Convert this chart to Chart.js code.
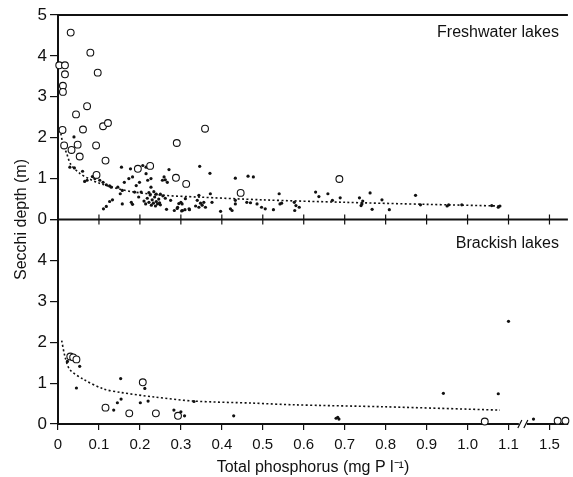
<!DOCTYPE html>
<html>
<head>
<meta charset="utf-8">
<title>Secchi depth vs total phosphorus</title>
<script src="https://cdn.jsdelivr.net/npm/chart.js@4.4.1/dist/chart.umd.min.js"></script>
<style>
  html, body { margin: 0; padding: 0; background: #fff; }
  #chart { display: block; }
</style>
</head>
<body>
<canvas id="chart" width="573" height="477"></canvas>
<script>
// x axis ticks (real phosphorus values) and their labels
const xTickValues = [0, 0.1, 0.2, 0.3, 0.4, 0.5, 0.6, 0.7, 0.8, 0.9, 1.0, 1.1, 1.5];
const xTickLabels = ["0", "0.1", "0.2", "0.3", "0.4", "0.5", "0.6", "0.7", "0.8", "0.9", "1.0", "1.1", "1.5"];
const yTickValues = [0, 1, 2, 3, 4, 5];

// axis break: everything above 1.1 is squeezed
const BREAK_FROM = 1.1;
const BREAK_SQUEEZE = 4;
const BREAK_MARK = 1.135;
const X_MAX = 1.245;

// Freshwater lakes - open circles
const freshOpenX = [0.003, 0.017, 0.017, 0.012, 0.012, 0.031, 0.079, 0.097, 0.071, 0.044, 0.110, 0.122, 0.011, 0.061, 0.015,
  0.033, 0.048, 0.053, 0.093, 0.116, 0.094, 0.195, 0.225, 0.290, 0.288, 0.313, 0.359, 0.446, 0.687];
const freshOpenY = [3.77, 3.77, 3.55, 3.27, 3.12, 4.57, 4.08, 3.59, 2.77, 2.57, 2.28, 2.36, 2.19, 2.20, 1.81,
  1.70, 1.83, 1.54, 1.81, 1.44, 1.09, 1.24, 1.31, 1.87, 1.02, 0.87, 2.22, 0.65, 0.99];

// Freshwater lakes - filled dots
const freshDotX = [0.039, 0.029, 0.040, 0.060, 0.065, 0.071, 0.084, 0.090, 0.096, 0.102, 0.110, 0.118, 0.126, 0.130,
  0.111, 0.118, 0.126, 0.133, 0.146, 0.152, 0.157, 0.162, 0.173, 0.155, 0.157, 0.179, 0.182, 0.177, 0.182, 0.191,
  0.187, 0.199, 0.197, 0.203, 0.207, 0.215, 0.215, 0.219, 0.227, 0.227,
  0.210, 0.214, 0.218, 0.222, 0.225, 0.228, 0.230, 0.233, 0.236, 0.238, 0.240, 0.243, 0.246, 0.248, 0.250, 0.222, 0.234, 0.240,
  0.255, 0.259, 0.262, 0.267, 0.271, 0.275, 0.284, 0.292, 0.300, 0.304, 0.320, 0.311,
  0.265, 0.291, 0.302, 0.310, 0.321, 0.336, 0.344, 0.352, 0.360, 0.295, 0.303, 0.250, 0.256, 0.262,
  0.340, 0.348, 0.356, 0.344, 0.346, 0.371, 0.372, 0.376, 0.397, 0.421, 0.425, 0.433, 0.433, 0.433,
  0.461, 0.470, 0.486, 0.464, 0.477, 0.497, 0.506, 0.526, 0.540, 0.542, 0.546, 0.577, 0.578, 0.581, 0.589,
  0.629, 0.637, 0.659, 0.670, 0.689, 0.736, 0.740, 0.742, 0.744, 0.762, 0.767, 0.791, 0.809, 0.873, 0.885,
  0.950, 0.954, 0.986, 1.059, 1.075, 1.079];
const freshDotY = [2.02, 1.28, 1.26, 1.18, 0.93, 0.96, 1.05, 1.00, 1.04, 0.96, 0.91, 0.85, 0.82, 0.79,
  0.26, 0.32, 0.44, 0.48, 0.79, 0.63, 0.71, 0.91, 1.00, 1.28, 0.38, 0.42, 0.37, 1.24, 1.04, 0.83,
  0.67, 0.91, 0.55, 0.67, 1.32, 1.28, 1.12, 0.96, 1.00, 0.79,
  0.45, 0.38, 0.52, 0.42, 0.60, 0.35, 0.48, 0.40, 0.55, 0.33, 0.44, 0.38, 0.50, 0.41, 0.36, 0.66, 0.68, 0.62,
  0.96, 1.04, 0.97, 0.91, 1.22, 0.47, 0.22, 0.30, 0.42, 0.22, 0.26, 0.51,
  0.25, 0.27, 0.21, 0.24, 0.24, 0.33, 0.30, 0.35, 0.30, 0.39, 0.38, 0.62, 0.58, 0.52,
  0.47, 0.40, 0.42, 0.59, 1.30, 1.13, 0.63, 0.42, 0.20, 0.26, 0.22, 0.47, 0.38, 1.01,
  0.42, 0.41, 0.38, 1.06, 1.04, 0.30, 0.26, 0.24, 0.63, 0.38, 0.40, 0.42, 0.22, 0.34, 0.30,
  0.67, 0.56, 0.63, 0.47, 0.53, 0.53, 0.34, 0.38, 0.45, 0.65, 0.25, 0.48, 0.24, 0.59, 0.36,
  0.33, 0.36, 0.36, 0.34, 0.30, 0.33];

// Freshwater lakes - fitted curve
const freshFitX = [0.007, 0.012, 0.021, 0.031, 0.053, 0.075, 0.100, 0.140, 0.180, 0.260, 0.340, 0.500, 0.700, 0.900, 1.080];
const freshFitY = [2.10, 1.85, 1.62, 1.35, 1.13, 1.00, 0.89, 0.77, 0.68, 0.59, 0.55, 0.48, 0.42, 0.37, 0.33];

// Brackish lakes
const brackOpenX = [0.030, 0.037, 0.045, 0.207, 0.116, 0.174, 0.239, 0.293, 1.042, 1.580, 1.656];
const brackOpenY = [1.65, 1.63, 1.58, 1.02, 0.40, 0.26, 0.26, 0.20, 0.06, 0.08, 0.08];
const brackDotX = [0.023, 0.053, 0.045, 0.153, 0.212, 0.154, 0.145, 0.136, 0.201, 0.220, 0.283, 0.300, 0.309, 0.289,
  0.332, 0.429, 0.679, 0.683, 0.686, 0.941, 1.075, 1.100, 1.344];
const brackDotY = [1.53, 1.41, 0.88, 1.11, 0.87, 0.61, 0.52, 0.34, 0.52, 0.56, 0.34, 0.30, 0.20, 0.16,
  0.55, 0.20, 0.14, 0.16, 0.12, 0.75, 0.74, 2.51, 0.12];
const brackFitX = [0.009, 0.017, 0.029, 0.061, 0.110, 0.154, 0.235, 0.332, 0.477, 0.574, 0.800, 1.079];
const brackFitY = [2.04, 1.65, 1.33, 1.10, 0.86, 0.77, 0.66, 0.56, 0.51, 0.47, 0.42, 0.34];

const FONT = "'Liberation Sans', Arial, Helvetica, sans-serif";
const INK = "#111";

// map a real x value onto the broken axis
const brk = (x) => (x <= BREAK_FROM ? x : BREAK_FROM + (x - BREAK_FROM) / BREAK_SQUEEZE);
const pts = (xs, ys) => xs.map((x, i) => ({ x: brk(x), y: ys[i] }));

const openStyle = {
  pointStyle: "circle", pointRadius: 3.4, pointBorderWidth: 1.1,
  pointBackgroundColor: "#fff", pointBorderColor: INK, showLine: false, clip: false
};
const dotStyle = {
  pointStyle: "circle", pointRadius: 1.6, pointBorderWidth: 0,
  pointBackgroundColor: INK, showLine: false, clip: false
};
const fitStyle = {
  showLine: true, pointRadius: 0, borderColor: INK, borderWidth: 1.6,
  borderDash: [2, 2.4], tension: 0.3, clip: false
};

// frame, inner ticks, axis break and panel labels
const framePlugin = {
  id: "frame",
  afterDraw(chart) {
    const ctx = chart.ctx;
    const area = chart.chartArea;
    const x = chart.scales.x;
    const mid = chart.scales.yBot.top;
    ctx.save();
    ctx.strokeStyle = INK;
    ctx.lineWidth = 2;
    ctx.beginPath();
    ctx.moveTo(area.left, area.top);
    ctx.lineTo(area.right, area.top);
    ctx.moveTo(area.left, mid);
    ctx.lineTo(area.right, mid);
    ctx.stroke();

    // ticks on the shared middle line point into both panels
    ctx.lineWidth = 1.2;
    ctx.beginPath();
    xTickValues.forEach((v) => {
      const px = x.getPixelForValue(brk(v));
      ctx.moveTo(px, mid - 5);
      ctx.lineTo(px, mid + 5);
    });
    ctx.stroke();

    // axis break "//"
    const bx = x.getPixelForValue(BREAK_MARK);
    const by = area.bottom;
    ctx.fillStyle = "#fff";
    ctx.fillRect(bx - 4, by - 2, 8, 4);
    ctx.beginPath();
    ctx.moveTo(bx - 5, by + 4);
    ctx.lineTo(bx - 1, by - 4);
    ctx.moveTo(bx + 1, by + 4);
    ctx.lineTo(bx + 5, by - 4);
    ctx.stroke();

    // panel labels
    ctx.fillStyle = INK;
    ctx.font = "16px " + FONT;
    ctx.textAlign = "right";
    ctx.textBaseline = "alphabetic";
    ctx.fillText("Freshwater lakes", area.right - 9, area.top + 22);
    ctx.fillText("Brackish lakes", area.right - 9, mid + 28);

    // y axis title, centred over both panels
    ctx.translate(22, (area.top + area.bottom) / 2);
    ctx.rotate(-Math.PI / 2);
    ctx.textAlign = "center";
    ctx.textBaseline = "middle";
    ctx.fillText("Secchi depth (m)", 0, 0);
    ctx.restore();
  }
};

const yAxis = (hideTop) => ({
  type: "linear",
  position: "left",
  stack: "panels",
  stackWeight: 1,
  min: 0,
  max: 5,
  afterBuildTicks: (s) => { s.ticks = yTickValues.map((v) => ({ value: v })); },
  afterFit: (s) => { s.width = 58; },
  ticks: {
    color: INK,
    font: { family: FONT, size: 17 },
    padding: 3,
    autoSkip: false,
    callback: (v) => (hideTop && v === 5 ? "" : String(v))
  },
  grid: { drawOnChartArea: false, drawTicks: true, tickLength: 8, color: INK, lineWidth: 1.2 },
  border: { display: true, color: INK, width: 2 }
});

window.addEventListener("DOMContentLoaded", () => {
  const canvas = document.getElementById("chart");
  new Chart(canvas, {
    type: "scatter",
    data: {
      datasets: [
        Object.assign({ label: "fresh open", yAxisID: "yTop", data: pts(freshOpenX, freshOpenY) }, openStyle),
        Object.assign({ label: "fresh dots", yAxisID: "yTop", data: pts(freshDotX, freshDotY) }, dotStyle),
        Object.assign({ label: "fresh fit", yAxisID: "yTop", data: pts(freshFitX, freshFitY) }, fitStyle),
        Object.assign({ label: "brackish open", yAxisID: "yBot", data: pts(brackOpenX, brackOpenY) }, openStyle),
        Object.assign({ label: "brackish dots", yAxisID: "yBot", data: pts(brackDotX, brackDotY) }, dotStyle),
        Object.assign({ label: "brackish fit", yAxisID: "yBot", data: pts(brackFitX, brackFitY) }, fitStyle)
      ]
    },
    options: {
      responsive: false,
      animation: false,
      layout: { padding: { top: 15, right: 1, left: 0, bottom: 0 } },
      plugins: { legend: { display: false }, tooltip: { enabled: false } },
      scales: {
        x: {
          type: "linear",
          min: 0,
          max: X_MAX,
          afterBuildTicks: (s) => { s.ticks = xTickValues.map((v) => ({ value: brk(v) })); },
          afterFit: (s) => { s.height = 53; },
          ticks: {
            color: INK,
            font: { family: FONT, size: 15 },
            padding: 6,
            maxRotation: 0,
            autoSkip: false,
            callback: (v, i) => xTickLabels[i]
          },
          grid: { drawOnChartArea: false, drawTicks: true, tickLength: 6, color: INK, lineWidth: 1.2 },
          border: { display: true, color: INK, width: 2 },
          title: {
            display: true,
            text: "Total phosphorus (mg P l⁻¹)",
            color: INK,
            font: { family: FONT, size: 16 },
            padding: { top: 2, bottom: 0 }
          }
        },
        yBot: yAxis(true),
        yTop: yAxis(false)
      }
    },
    plugins: [framePlugin]
  });
});
</script>
</body>
</html>
